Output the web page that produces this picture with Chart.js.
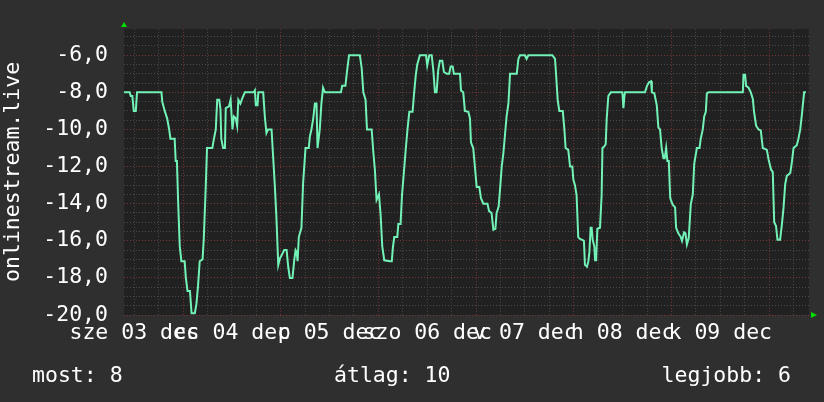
<!DOCTYPE html>
<html>
<head>
<meta charset="utf-8">
<script src="https://cdn.jsdelivr.net/npm/chart.js@4/dist/chart.umd.min.js"></script>
<style>
  html, body { margin: 0; padding: 0; background: #2f2f2f; }
  #wrap { width: 824px; height: 402px; position: relative; }
</style>
</head>
<body>
<div id="wrap"><canvas id="rrd"></canvas></div>
<script>
// hours since 2025-12-03 00:00
const hours = [
  9.5, 10.9, 11.15, 11.55, 11.9, 12.4, 12.7, 18.7, 18.9, 19.5, 20.1, 20.6, 20.9, 21.95, 22.2, 22.5, 22.8, 23.2, 23.6, 24.4,
  24.7, 25.1, 25.7, 26.1, 26.9, 27.3, 27.7, 28.1, 28.8, 29.1, 29.6, 29.9, 31.2, 31.6, 32.05, 32.4, 32.9, 33.2, 33.4, 33.85,
  34.3, 34.5, 35.3, 35.7, 36.15, 36.5, 36.95, 37.3, 37.6, 38.1, 38.6, 39.2, 41.4, 41.65, 41.9, 42.3, 42.5,
  43.7, 44.1, 44.5, 44.9, 45.75, 46.15, 46.55, 46.95, 47.4, 47.8, 48.2, 48.85, 49.45, 49.85, 50.25, 50.9, 51.3, 51.65, 51.9,
  52.15, 52.45, 53.1, 53.5, 54.1, 54.9, 55.15, 55.55, 56.0, 56.4, 56.8, 57.05, 57.6, 58.0, 58.4, 58.85, 62.8, 63.1, 63.9,
  64.3, 64.8, 67.45, 67.9, 68.3, 68.85, 69.2, 70.35, 70.75, 71.15, 71.55, 72.15, 72.55, 72.95, 73.45, 74.85, 75.3, 75.55, 75.9,
  76.65, 76.9, 77.45, 77.8, 78.25, 78.75, 79.15, 79.6, 80.4, 80.75, 81.2, 81.55, 82.2, 83.7, 84.0, 84.5, 85.1, 85.5, 85.9,
  86.3, 86.7, 87.1, 87.7, 88.1, 88.8, 89.4, 89.75, 90.25, 90.55, 92.05, 92.3, 92.85, 93.25, 94.1, 94.5, 94.75, 95.3, 95.75,
  96.15, 96.8, 97.2, 97.8, 98.8, 99.2, 99.8, 100.25, 100.75, 101.05, 101.55, 101.9, 102.3, 102.7, 103.1, 103.5, 103.95, 104.35,
  106.0, 106.4, 106.8, 108.0, 108.4, 108.85,
  114.75, 115.4, 115.65, 116.05, 116.45, 117.3, 117.7, 118.0, 118.65, 119.1, 119.65, 119.9, 120.3, 120.7, 121.1, 121.5, 122.1,
  122.5, 122.75, 123.25, 123.6, 123.85, 124.15, 124.4, 124.65, 125.05, 125.25, 125.5, 125.8, 126.45, 126.85, 127.05, 127.55,
  127.85, 128.1, 128.5, 129.1, 131.95, 132.2, 132.45, 132.6, 137.5, 138.0, 138.5, 139.0, 139.2, 139.8, 140.4, 140.8, 141.2,
  141.6, 142.05, 142.35, 142.7, 143.0, 143.35, 143.7, 144.3, 144.9, 145.15, 145.7, 146.3, 146.6, 147.1, 147.45, 147.8, 148.25,
  148.75, 149.25, 149.6, 150.25, 150.9, 151.2, 151.7, 152.05, 152.45, 152.7, 153.1, 161.55, 161.7, 162.1, 162.35, 162.95, 163.5,
  164.0, 164.3, 164.8, 165.4, 165.95, 166.45, 167.45, 167.85, 168.45, 168.9, 169.25, 169.7, 170.05, 170.7, 171.15, 171.55,
  171.95, 172.35, 173.2, 173.6, 174.0, 174.8, 175.2, 175.65, 176.05, 176.6, 177.05
];
const values = [
  -8.0, -8.0, -8.2, -8.2, -9.0, -9.0, -8.0, -8.0, -8.5, -9.0, -9.4, -10.0, -10.5, -10.5, -11.7, -11.7, -13.9, -16.3, -17.1, -17.1,
  -18.0, -18.7, -18.7, -19.9, -19.9, -19.4, -18.4, -17.1, -17.0, -15.9, -13.0, -11.0, -11.0, -10.5, -10.0, -8.4, -8.4, -8.9, -10.5, -11.0,
  -11.0, -8.85, -8.75, -8.4, -10.0, -9.3, -9.4, -9.8, -8.4, -8.6, -8.3, -8.0, -8.0, -7.9, -8.7, -8.7, -8.0,
  -8.0, -9.3, -10.2, -10.0, -10.0, -11.5, -13.0, -14.75, -17.3, -16.95, -16.8, -16.5, -16.5, -17.4, -18.0, -18.0, -17.1, -16.5, -16.6,
  -17.1, -15.8, -15.3, -12.9, -11.0, -11.0, -10.4, -10.0, -9.4, -8.6, -8.6, -11.0, -10.0, -8.6, -7.75, -8.0, -8.0, -7.65, -7.65,
  -6.85, -6.0, -6.0, -6.7, -8.0, -8.4, -10.0, -10.0, -11.2, -12.2, -13.8, -13.5, -14.6, -16.3, -17.05, -17.1, -17.1, -16.4, -15.8,
  -15.8, -15.1, -15.1, -13.55, -12.35, -11.0, -10.0, -9.05, -9.05, -8.1, -7.05, -6.5, -6.0, -6.0, -6.55, -6.0, -6.0, -6.8, -8.0,
  -8.0, -6.8, -6.3, -6.3, -6.9, -7.0, -7.0, -6.6, -6.6, -7.0, -7.0, -7.9, -8.0, -9.0, -9.05, -9.4, -10.7, -11.0, -12.1,
  -13.1, -13.1, -13.7, -14.0, -14.0, -14.4, -14.5, -15.4, -15.35, -14.5, -14.15, -13.2, -12.0, -11.3, -10.3, -9.3, -8.6, -7.0,
  -7.0, -6.2, -6.0, -6.0, -6.2, -6.0,
  -6.0, -6.2, -7.0, -8.4, -9.0, -9.0, -10.0, -11.0, -11.1, -12.0, -12.0, -12.7, -13.0, -13.55, -15.8, -15.9, -15.95,
  -16.0, -17.3, -17.4, -17.1, -16.6, -15.3, -15.3, -15.95, -16.3, -17.05, -17.05, -15.35, -15.3, -13.55, -11.0, -10.9,
  -10.8, -9.4, -8.2, -8.0, -8.0, -8.85, -8.2, -8.0, -8.0, -7.65, -7.45, -7.4, -8.0, -8.05, -8.7, -9.9, -10.0,
  -11.0, -11.55, -11.55, -11.0, -11.7, -11.7, -13.7, -14.05, -14.2, -15.3, -15.6, -15.8, -16.0, -15.55, -15.6, -16.2, -15.85,
  -14.05, -13.5, -11.85, -11.0, -11.0, -10.5, -10.0, -9.3, -9.05, -8.05, -8.0, -8.0, -7.05, -7.05, -7.65, -7.75, -8.0,
  -8.35, -9.05, -9.8, -10.0, -10.05, -11.0, -11.1, -11.6, -12.15, -12.3, -15.0, -15.2, -15.95, -15.95, -15.1, -14.2,
  -12.95, -12.5, -12.35, -11.75, -11.0, -10.85, -10.5, -10.0, -9.2, -8.0, -8.0
];
// day labels, placed at noon of each day
const dayLabels = ["sze 03 dec", "cs 04 dec", "p 05 dec", "szo 06 dec", "v 07 dec", "h 08 dec", "k 09 dec"];
const legendLabels = ["most:", "átlag:", "legjobb:"];
const legendValues = [8, 10, 6];
const yTitle = "onlinestream.live";

const FONT = "DejaVu Sans Mono";
const FS = 21.5;

const rrdDecor = {
  id: "rrdDecor",
  beforeDraw(chart) {
    const { ctx, chartArea: a } = chart;
    ctx.save();
    ctx.fillStyle = "#212121";
    ctx.fillRect(a.left, a.top, a.right - a.left, a.bottom - a.top);
    ctx.restore();
  },
  afterDraw(chart) {
    const { ctx, chartArea: a } = chart;
    ctx.save();
    // arrows
    ctx.fillStyle = "#00e000";
    ctx.beginPath();
    ctx.moveTo(a.left - 3, a.top - 2);
    ctx.lineTo(a.left + 3, a.top - 2);
    ctx.lineTo(a.left, a.top - 7);
    ctx.closePath();
    ctx.fill();
    ctx.beginPath();
    ctx.moveTo(a.right + 2, a.bottom - 3);
    ctx.lineTo(a.right + 2, a.bottom + 3);
    ctx.lineTo(a.right + 8, a.bottom);
    ctx.closePath();
    ctx.fill();

    ctx.fillStyle = "#ffffff";
    ctx.font = FS + "px '" + FONT + "'";
    // rotated axis title
    ctx.save();
    ctx.translate(19, (a.top + a.bottom) / 2);
    ctx.rotate(-Math.PI / 2);
    ctx.textAlign = "center";
    ctx.textBaseline = "alphabetic";
    ctx.fillText(yTitle, 0, 0);
    ctx.restore();

    // legend row
    ctx.textBaseline = "alphabetic";
    ctx.textAlign = "left";
    ctx.fillText(legendLabels[0] + " " + legendValues[0], 32, 382);
    ctx.fillText(legendLabels[1] + " " + legendValues[1], 334, 382);
    ctx.textAlign = "right";
    ctx.fillText(legendLabels[2] + " " + legendValues[2], 791, 382);
    ctx.restore();
  }
};

const isMajorY = v => Math.abs(v % 2) < 1e-6;

new Chart(document.getElementById("rrd"), {
  type: "line",
  data: {
    datasets: [{
      data: hours.map((h, i) => ({ x: h, y: values[i] })),
      borderColor: "#72f2b6",
      borderWidth: 2,
      pointRadius: 0,
      tension: 0,
      fill: false
    }]
  },
  options: {
    responsive: true,
    maintainAspectRatio: false,
    animation: false,
    layout: { padding: { top: 15, right: 15, left: 0, bottom: 0 } },
    plugins: { legend: { display: false }, tooltip: { enabled: false } },
    scales: {
      x: {
        type: "linear",
        min: 9.5,
        max: 177.8,
        afterFit: s => { s.height = 87; },
        grid: {
          color: c => (c.tick && c.tick.value % 24 === 0) ? "#7a3434" : "#4a4a4a",
          lineWidth: 1,
          drawTicks: false
        },
        border: { display: false, dash: [1, 2] },
        ticks: {
          stepSize: 6,
          includeBounds: false,
          autoSkip: false,
          maxRotation: 0,
          padding: 6,
          color: "#ffffff",
          font: { family: FONT, size: FS },
          callback: v => {
            if ((v - 12) % 24 !== 0) return "";
            return dayLabels[(v - 12) / 24] || "";
          }
        }
      },
      y: {
        min: -20,
        max: -4.58,
        afterFit: s => { s.width = 124; },
        grid: {
          color: c => (c.tick && isMajorY(c.tick.value)) ? "#7a3434" : "#4a4a4a",
          lineWidth: 1,
          drawTicks: false
        },
        border: { display: false, dash: [1, 2] },
        ticks: {
          stepSize: 0.5,
          includeBounds: false,
          autoSkip: false,
          padding: 16,
          color: "#ffffff",
          font: { family: FONT, size: FS },
          callback: v => isMajorY(v) ? v.toFixed(1).replace(".", ",") : ""
        }
      }
    }
  },
  plugins: [rrdDecor]
});
</script>
</body>
</html>
